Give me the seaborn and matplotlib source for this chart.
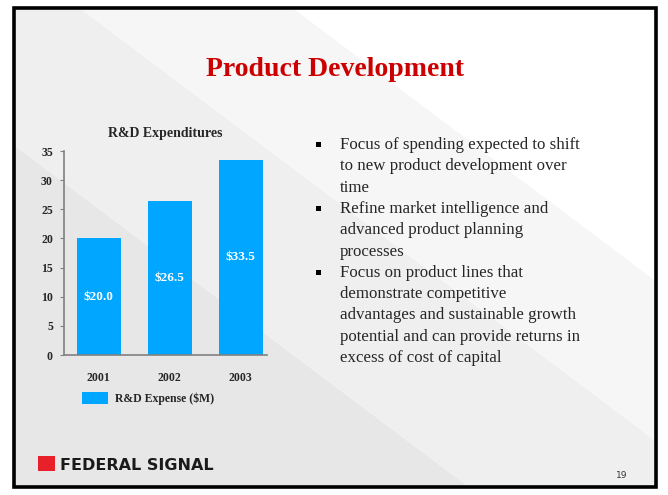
import matplotlib
matplotlib.use("Agg")
import matplotlib.pyplot as plt
import seaborn as sns
from matplotlib.patches import Polygon, Rectangle

# chart data
years = ["2001", "2002", "2003"]
rd_expense = [20.0, 26.5, 33.5]
y_ticks = [0, 5, 10, 15, 20, 25, 30, 35]

bullets = [
    ["Focus of spending expected to shift", "to new product development over", "time"],
    ["Refine market intelligence and", "advanced product planning", "processes"],
    ["Focus on product lines that", "demonstrate competitive",
     "advantages and sustainable growth", "potential and can provide returns in",
     "excess of cost of capital"],
]

W, H = 668, 495
BLUE = "#00a6ff"

sns.set_style("ticks")
plt.rcParams["font.family"] = ["Liberation Serif", "DejaVu Serif"]

fig = plt.figure(figsize=(W / 100, H / 100), dpi=100)
fig.patch.set_facecolor("white")

# slide background with diagonal bands (pixel coordinates)
bg = fig.add_axes([0, 0, 1, 1], zorder=-5)
bg.set_xlim(0, W)
bg.set_ylim(H, 0)
bg.axis("off")


def band(u0, u1, color):
    # region between lines x - 1.33*y = u0 and u1
    k = 1.33
    pts = [(u0, 0), (u1, 0), (u1 + k * H, H), (u0 + k * H, H)]
    bg.add_patch(Polygon(pts, closed=True, fc=color, ec="none"))


band(-2000, -179, "#e7e7e7")
band(-179, 69, "#efefef")
band(69, 282, "#f6f6f6")
band(282, 2000, "#ffffff")
# white outside the frame, then frame
for r in [(0, 0, W, 8), (0, 487, W, 8), (0, 0, 14, H), (656, 0, 12, H)]:
    bg.add_patch(Rectangle(r[:2], r[2], r[3], fc="white", ec="none"))
bg.add_patch(Rectangle((14, 8), 642, 479, fill=False, ec="black", lw=2.6))

# slide title
fig.text(335 / W, 1 - 70 / H, "Product Development", color="#cc0000",
         fontsize=20, fontweight="bold", ha="center", va="center")

# bar chart
ax = fig.add_axes([64 / W, 1 - 355 / H, (267 - 64) / W, (355 - 151) / H])
ax.set_facecolor("none")
sns.barplot(x=years, y=rd_expense, color=BLUE, saturation=1, width=0.62,
            linewidth=0, label="R&D Expense ($M)", ax=ax)
ax.set_xlim(-0.49, 2.37)
ax.set_ylim(0, 35)
ax.set_yticks(y_ticks)
ax.bar_label(ax.containers[0], labels=[f"${v:.1f}" for v in rd_expense],
             label_type="center", color="white", fontsize=9.5, fontweight="bold")
for side in ["top", "right"]:
    ax.spines[side].set_visible(False)
for side in ["left", "bottom"]:
    ax.spines[side].set_color("#808080")
    ax.spines[side].set_linewidth(1.2)
ax.tick_params(axis="y", length=3, width=0.8, color="#808080", pad=5, labelsize=8.5)
ax.tick_params(axis="x", length=0, pad=12, labelsize=8.5)
for lab in ax.get_xticklabels() + ax.get_yticklabels():
    lab.set_fontweight("bold")
ax.set_title("R&D Expenditures", fontsize=10, fontweight="bold", pad=10)
ax.legend(loc="upper left", bbox_to_anchor=(82 / W, 1 - 392 / H),
          bbox_transform=fig.transFigure, frameon=False, borderpad=0,
          borderaxespad=0, handlelength=2.2, handleheight=1.2,
          handletextpad=0.6, prop={"weight": "bold", "size": 8.5})

# bullet text
y = 145
for item in bullets:
    bg.add_patch(Rectangle((316, y - 3), 5, 5, fc="black", ec="none"))
    for line in item:
        bg.text(340, y, line, fontsize=12.2, ha="left", va="center")
        y += 21.3

# logo and page number
bg.add_patch(Rectangle((38, 456), 17, 15, fc="#e8202a", ec="none"))
bg.text(60, 465, "FEDERAL SIGNAL", fontsize=11.5, fontweight="bold",
        family="DejaVu Sans", ha="left", va="center", color="#1a1a1a")
bg.text(622, 475, "19", fontsize=6.5, family="DejaVu Sans", ha="center",
        va="center", color="#333333")

fig.savefig("out.png", dpi=100)
